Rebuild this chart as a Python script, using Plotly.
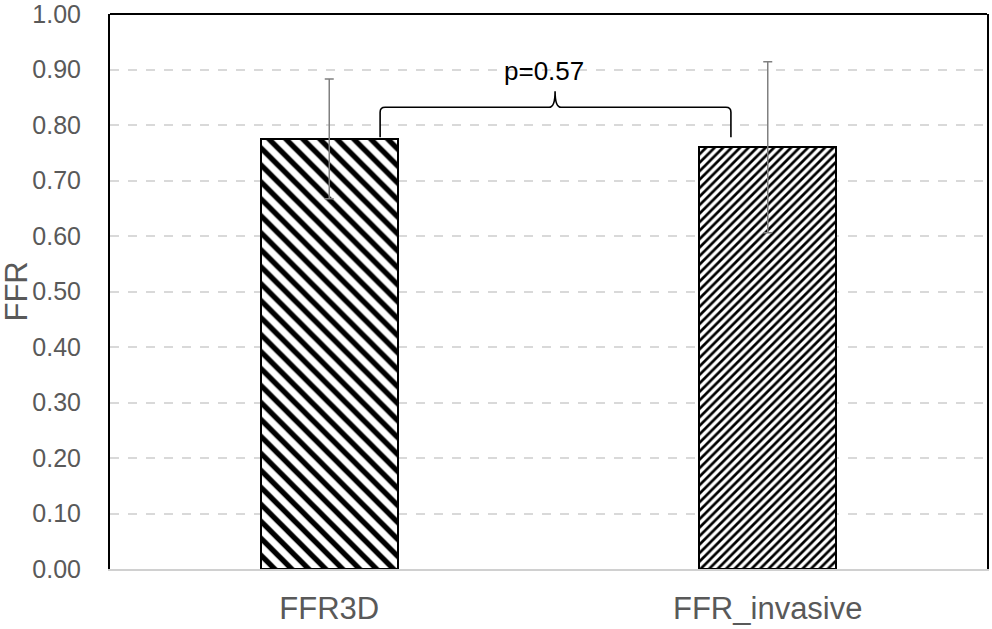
import plotly.graph_objects as go

categories = ["FFR3D", "FFR_invasive"]
means = [0.775, 0.760]
errors = [0.108, 0.154]
patterns = ["\\", "/"]
pattern_sizes = [12, 6]
y_ticks = [0.0, 0.1, 0.2, 0.3, 0.4, 0.5, 0.6, 0.7, 0.8, 0.9, 1.0]
y_tick_labels = ["0.00", "0.10", "0.20", "0.30", "0.40", "0.50",
                 "0.60", "0.70", "0.80", "0.90", "1.00"]
p_text = "p=0.57"

# bracket annotation (data units)
br_left, br_right, br_mid = 0.116, 0.916, 0.515
br_base, br_top, br_peak = 0.778, 0.832, 0.861
p_label_x, p_label_y = 0.489, 0.897

FONT = "Liberation Sans, Arial, sans-serif"
GRAY_TXT = "#595959"

fig = go.Figure()
for i, cat in enumerate(categories):
    fig.add_trace(go.Bar(
        x=[i], y=[means[i]], width=0.3125,
        marker=dict(color="white", line=dict(color="black", width=2),
                    pattern=dict(shape=patterns[i], size=pattern_sizes[i],
                                 solidity=0.45, fgcolor="black", bgcolor="white",
                                 fillmode="replace")),
        error_y=dict(type="data", array=[errors[i]], visible=True,
                     color="#808080", thickness=1.5, width=4.5),
        showlegend=False, hoverinfo="skip",
    ))

rx, ry = 0.0114, 0.009
dx = 0.0137
path = (f"M {br_left},{br_base} L {br_left},{br_top - ry} "
        f"Q {br_left},{br_top} {br_left + rx},{br_top} "
        f"L {br_mid - dx},{br_top} Q {br_mid},{br_top} {br_mid},{br_peak} "
        f"Q {br_mid},{br_top} {br_mid + dx},{br_top} "
        f"L {br_right - rx},{br_top} Q {br_right},{br_top} {br_right},{br_top - ry} "
        f"L {br_right},{br_base}")
fig.add_shape(type="path", path=path, xref="x", yref="y",
              line=dict(color="black", width=1.6))
# top frame line
fig.add_shape(type="line", xref="paper", yref="paper", x0=0, x1=1, y0=1, y1=1,
              line=dict(color="black", width=2))

fig.add_annotation(x=-94 / 877, y=0.5, xref="paper", yref="paper", text="FFR",
                   textangle=-90, showarrow=False, xanchor="center", yanchor="middle",
                   font=dict(family=FONT, size=31, color=GRAY_TXT))
fig.add_annotation(x=p_label_x, y=p_label_y, xref="x", yref="y", text=p_text,
                   showarrow=False, font=dict(family=FONT, size=26, color="black"))

fig.update_layout(
    width=992, height=629,
    margin=dict(l=110, r=5, t=14, b=60, autoexpand=False),
    paper_bgcolor="white", plot_bgcolor="white",
    font=dict(family=FONT, color=GRAY_TXT),
    bargap=0,
)
fig.update_xaxes(range=[-0.5, 1.5], tickvals=[0, 1], ticktext=categories,
                 automargin=False,
                 showgrid=False, zeroline=False, showline=True, linecolor="#d0d0d0",
                 linewidth=2, ticks="outside", ticklen=11, tickcolor="rgba(0,0,0,0)",
                 tickfont=dict(family=FONT, size=31, color=GRAY_TXT))
fig.update_yaxes(range=[0, 1], tickmode="array", tickvals=y_ticks, ticktext=y_tick_labels,
                 ticklabeloverflow="allow", automargin=False,
                 showgrid=True, gridcolor="#d9d9d9", gridwidth=1.5, griddash="dash",
                 zeroline=False, showline=True, linecolor="black", linewidth=2, mirror=True,
                 ticks="outside", ticklen=22, tickcolor="rgba(0,0,0,0)",
                 tickfont=dict(family=FONT, size=25, color=GRAY_TXT))

fig.write_html("out.html", config={"displayModeBar": False},
               post_script="document.body.style.margin='0';document.body.style.overflow='hidden';")
